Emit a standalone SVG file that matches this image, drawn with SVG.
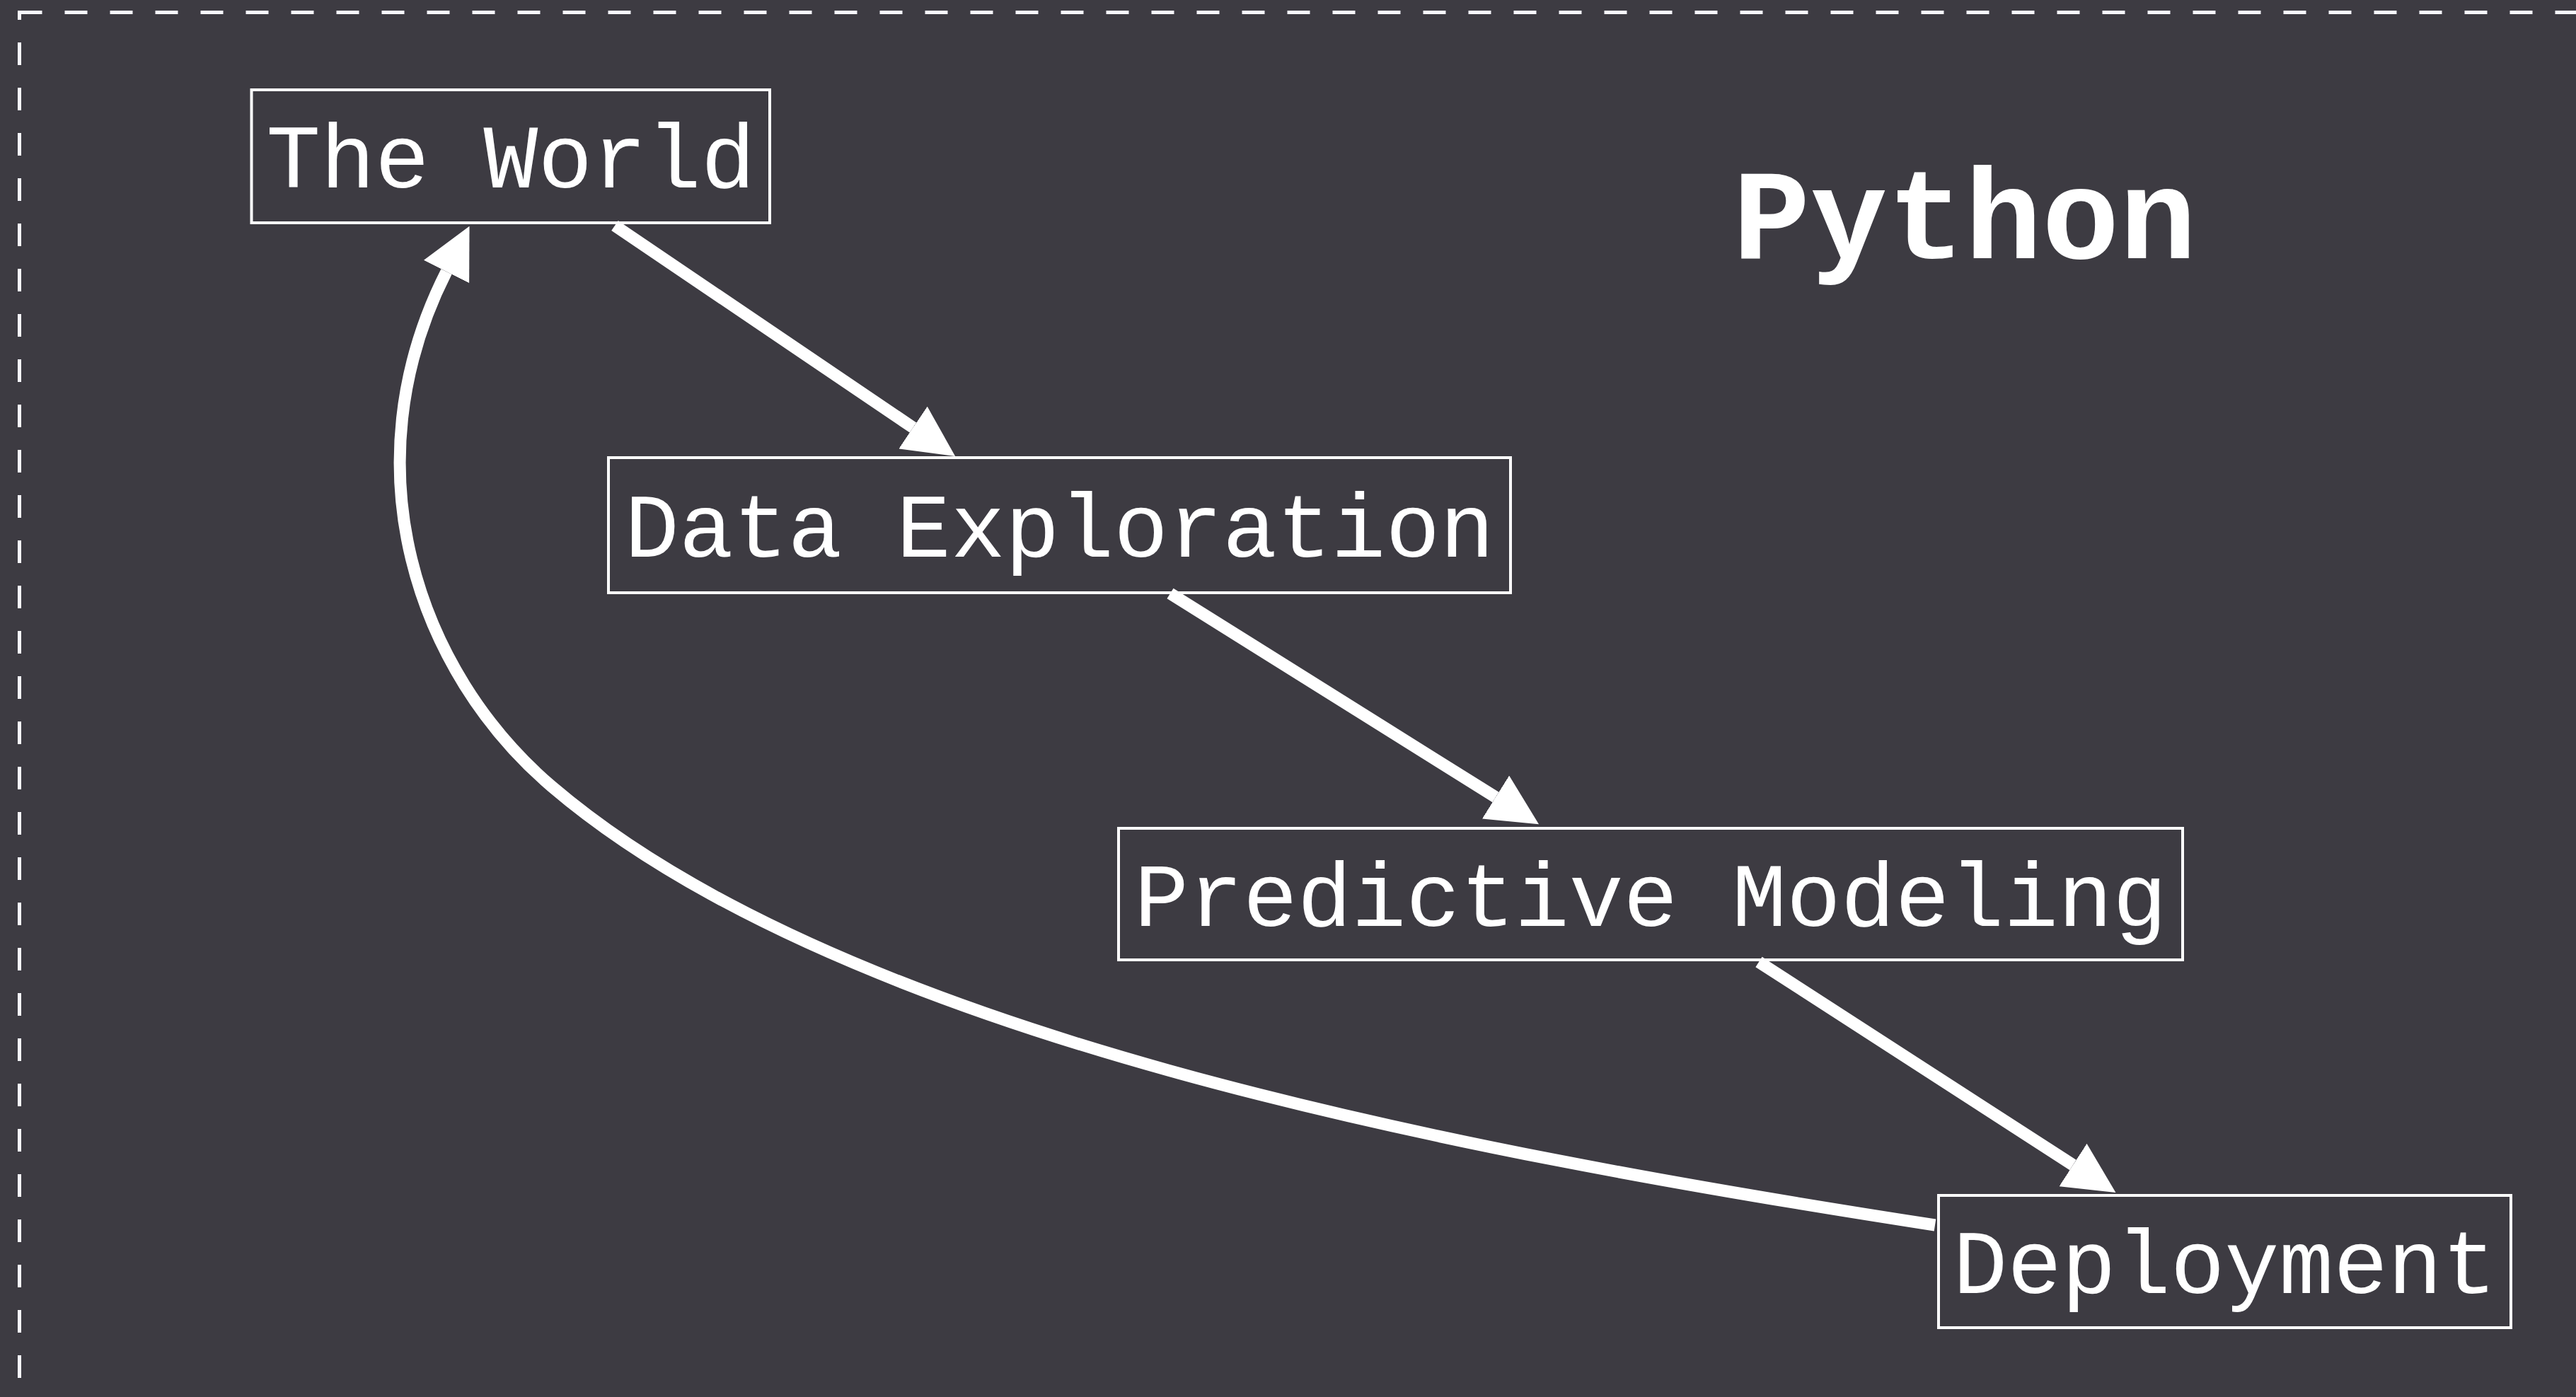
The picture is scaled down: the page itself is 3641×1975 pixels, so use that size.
<svg xmlns="http://www.w3.org/2000/svg" width="3641" height="1975" viewBox="0 0 3641 1975">
  <defs>
    <style>
      .bg { fill: #3d3b42; }
      .cluster { fill: none; stroke: #f8f8ff; stroke-width: 5; stroke-dasharray: 32 32; }
      .node rect { fill: none; stroke: #ffffff; stroke-width: 4; }
      .node text { fill: #ffffff; font-family: "Courier New", "Nimbus Mono PS", "Liberation Mono", monospace; font-size: 128px; text-anchor: middle; }
      .title { fill: #ffffff; font-family: "Courier New", "Nimbus Mono PS", "Liberation Mono", monospace; font-size: 182px; font-weight: bold; text-anchor: middle; }
      .edge { fill: none; stroke: #ffffff; stroke-width: 17; stroke-linecap: butt; marker-end: url(#arrow); }
    </style>
    <marker id="arrow" markerUnits="userSpaceOnUse" viewBox="0 0 72 72" markerWidth="72" markerHeight="72" refX="0" refY="36" orient="auto">
      <path d="M0,0 L72,36 L0,72 Z" fill="#ffffff"/>
    </marker>
  </defs>

  <rect class="bg" x="0" y="0" width="3641" height="1975"/>

  <g id="cluster-python">
    <rect class="cluster" x="27.5" y="17.5" width="3700" height="2097.25"/>
    <text class="title" x="2777" y="365">Python</text>
  </g>

  <g id="edges">
    <path id="edge-world-data" class="edge" d="M869,319 L1290.5,604.5"/>
    <path id="edge-data-pred" class="edge" d="M1654,839 L2114,1127"/>
    <path id="edge-pred-deploy" class="edge" d="M2486,1360 L2930,1647"/>
    <path id="edge-deploy-world" class="edge" d="M2735,1732 C2042,1625 1190,1462 780,1112 C589.8,949.8 491,660.5 631,384"/>
  </g>

  <g id="node-the-world" class="node">
    <rect x="355.5" y="127" width="732.5" height="188"/>
    <text x="722" y="265">The World</text>
  </g>

  <g id="node-data-exploration" class="node">
    <rect x="860" y="647" width="1275" height="191"/>
    <text x="1497.5" y="787">Data Exploration</text>
  </g>

  <g id="node-predictive-modeling" class="node">
    <rect x="1581" y="1171" width="1504" height="186"/>
    <text x="2333" y="1309">Predictive Modeling</text>
  </g>

  <g id="node-deployment" class="node">
    <rect x="2740" y="1690" width="809" height="187"/>
    <text x="3144.5" y="1828">Deployment</text>
  </g>
</svg>
